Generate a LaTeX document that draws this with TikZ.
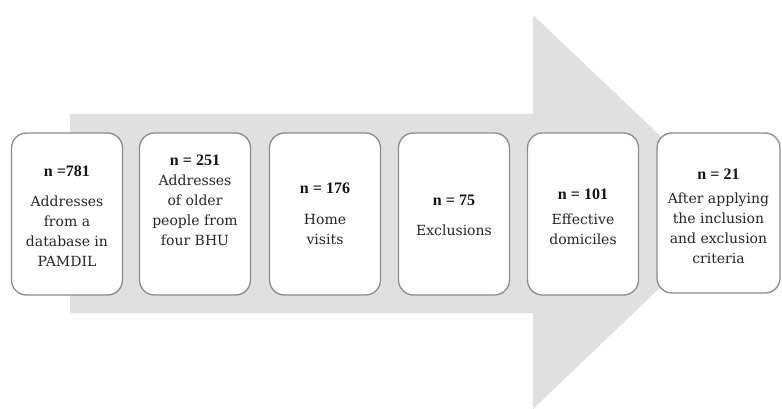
\documentclass[tikz,border=0pt]{standalone}
\usepackage{fontspec}
\setmainfont{DejaVu Serif}
\newfontfamily\hdrfont{Liberation Serif}
\begin{document}
\begin{tikzpicture}[x=1pt,y=-1pt,
  stepbox/.style={draw=black!45, line width=1.3pt, fill=white, rounded corners=15pt,
    minimum width=111pt, minimum height=162pt, inner sep=0pt},
  boxtext/.style={align=center, font=\fontsize{14}{20}\selectfont, text=black!85, inner sep=0pt}
]
\newcommand{\hdr}[1]{{\hdrfont\fontsize{16}{20}\selectfont\bfseries\color{black!92}#1}}
\useasboundingbox (0,0) rectangle (782,409);
% big arrow
\fill[black!12] (70,114) -- (533,114) -- (533,15) -- (740,211.5) -- (533,409) -- (533,313) -- (70,313) -- cycle;
% boxes
\node[stepbox] (b1) at (67,214) {};
\node[stepbox] (b2) at (195,214) {};
\node[stepbox] (b3) at (325,214) {};
\node[stepbox] (b4) at (454,214) {};
\node[stepbox] (b5) at (583,214) {};
\node[stepbox, minimum width=123pt, minimum height=160pt] (b6) at (718.5,213) {};
% texts
\node[boxtext] (t1) at (67,216) {\hdr{n =781}\\[10pt]Addresses\\from a\\database in\\PAMDIL};
\node[boxtext] (t2) at (195,200) {\hdr{n = 251}\\Addresses\\of older\\people from\\four BHU};
\node[boxtext] (t3) at (325,214) {\hdr{n = 176}\\[11pt]Home\\visits};
\node[boxtext] (t4) at (454,215) {\hdr{n = 75}\\[10pt]Exclusions};
\node[boxtext] (t5) at (583,217) {\hdr{n = 101}\\[5pt]Effective\\domiciles};
\node[boxtext] (t6) at (718.5,216) {\hdr{n = 21}\\[4pt]After applying\\the inclusion\\and exclusion\\criteria};
\end{tikzpicture}
\end{document}
